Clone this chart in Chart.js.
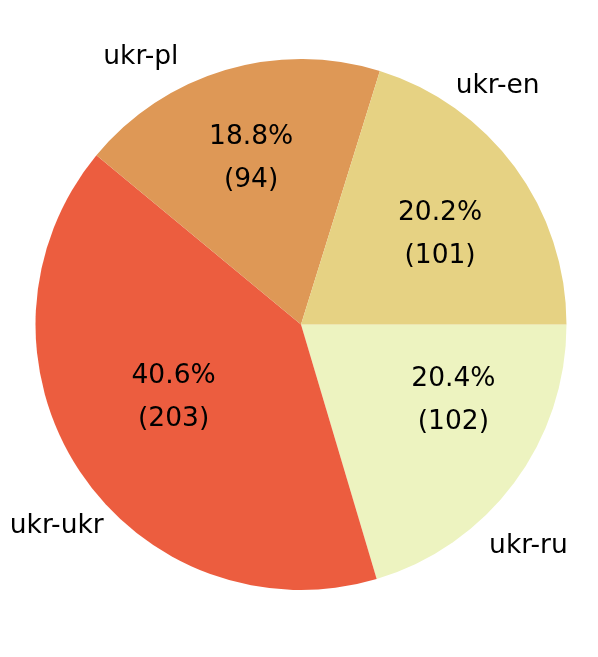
<!DOCTYPE html>
<html><head><meta charset="utf-8">
<script src="https://cdn.jsdelivr.net/npm/chart.js@4.4.1/dist/chart.umd.min.js"></script>
<style>html,body{margin:0;padding:0;background:#fff;}#wrap{width:598px;height:657px;position:relative;}</style>
</head><body><div id="wrap"><canvas id="c" width="598" height="657"></canvas></div>
<script>
const categories = ['ukr-en', 'ukr-pl', 'ukr-ukr', 'ukr-ru'];
const counts = [101, 94, 203, 102];
const colors = ['#E6D283', '#DE9856', '#EC5D3F', '#EDF3C0'];

// Chart.js draws clockwise from the start angle; reverse so the slices run
// counter-clockwise from 3 o'clock like the reference.
const order = categories.map((_, i) => categories.length - 1 - i);
const total = counts.reduce((a, b) => a + b, 0);

// angle nudge (degrees, counter-clockwise) and radius factor for each text
const placement = {
  'ukr-en':  { outer: [14.4, 1.171], inner: [-2.6, 0.63] },
  'ukr-pl':  { outer: [14.1, 1.183], inner: [-0.1, 0.663] },
  'ukr-ukr': { outer: [5.7, 1.187],  inner: [-4.6, 0.548] },
  'ukr-ru':  { outer: [-7.2, 1.189], inner: [11.0, 0.637] }
};

const FONT_SIZE = 26.5;
const textPlugin = {
  id: 'pieText',
  afterDatasetsDraw(chart) {
    const ctx = chart.ctx;
    const meta = chart.getDatasetMeta(0);
    const labs = chart.data.labels;
    const vals = chart.data.datasets[0].data;
    ctx.save();
    ctx.font = FONT_SIZE + 'px "DejaVu Sans"';
    ctx.fillStyle = '#000';
    ctx.textAlign = 'center';
    ctx.textBaseline = 'alphabetic';
    const half = 0.729 * FONT_SIZE / 2;
    meta.data.forEach((arc, i) => {
      const p = arc.getProps(['x', 'y', 'startAngle', 'endAngle', 'outerRadius'], true);
      const mid = (p.startAngle + p.endAngle) / 2;
      const cfg = placement[labs[i]];
      const pos = (c) => {
        const a = mid - c[0] * Math.PI / 180;
        return [p.x + Math.cos(a) * p.outerRadius * c[1], p.y + Math.sin(a) * p.outerRadius * c[1]];
      };
      const o = pos(cfg.outer);
      ctx.fillText(labs[i], o[0], o[1] + half);
      const n = pos(cfg.inner);
      const pct = (vals[i] / total * 100).toFixed(1) + '%';
      ctx.fillText(pct, n[0], n[1] - 21.7 + half);
      ctx.fillText('(' + vals[i] + ')', n[0], n[1] + 21.7 + half);
    });
    ctx.restore();
  }
};

new Chart(document.getElementById('c'), {
  type: 'pie',
  data: {
    labels: order.map(i => categories[i]),
    datasets: [{
      data: order.map(i => counts[i]),
      backgroundColor: order.map(i => colors[i]),
      borderWidth: 0
    }]
  },
  options: {
    responsive: false,
    animation: false,
    rotation: 90,
    layout: { padding: { left: 35, right: 31, top: 59, bottom: 67 } },
    plugins: { legend: { display: false }, tooltip: { enabled: false } }
  },
  plugins: [textPlugin]
});
</script>
</body></html>
